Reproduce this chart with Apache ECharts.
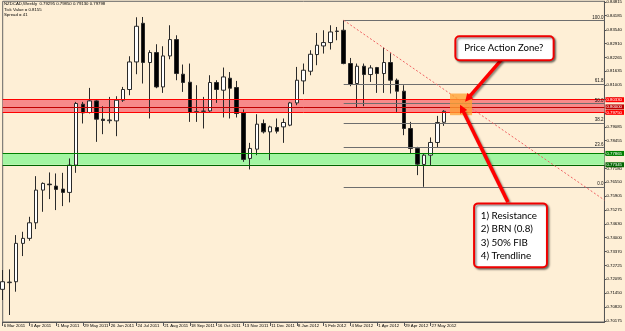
<!DOCTYPE html>
<html><head><meta charset="utf-8">
<script src="https://cdn.jsdelivr.net/npm/echarts@6/dist/echarts.min.js"></script>
<style>html,body{margin:0;padding:0;background:#FEEFD6}#c{width:625px;height:331px}</style>
</head><body><div id="c"></div>
<script>
// ---------- data ----------
const startDate = [2011, 2, 6]; // 6 Mar 2011, weekly bars
const totalSlots = 91;          // bars + empty right shift
const dateLabels = ['6 Mar 2011','3 Apr 2011','1 May 2011','29 May 2011','26 Jun 2011','24 Jul 2011','21 Aug 2011','18 Sep 2011','16 Oct 2011','13 Nov 2011','11 Dec 2011','8 Jan 2012','5 Feb 2012','4 Mar 2012','1 Apr 2012','29 Apr 2012','27 May 2012'];
const labelEvery = 4;
const opens = [0.71628,0.71935,0.71977,0.73738,0.73967,0.74682,0.76182,0.76457,0.76365,0.76228,0.76076,0.77328,0.80125,0.79744,0.80276,0.79437,0.79368,0.79359,0.80308,0.80799,0.82064,0.83838,0.82037,0.82495,0.80918,0.82339,0.83091,0.81500,0.81133,0.79762,0.79795,0.79817,0.81120,0.80767,0.81317,0.80890,0.79726,0.77635,0.78061,0.79240,0.78855,0.79056,0.79084,0.79162,0.80184,0.81193,0.81638,0.82403,0.82798,0.82954,0.83462,0.83518,0.81991,0.81074,0.81867,0.81486,0.81807,0.81532,0.82037,0.81225,0.80721,0.79010,0.78094,0.77360,0.77786,0.78368,0.79295];
const closes = [0.71977,0.71960,0.73738,0.73967,0.74682,0.76182,0.76489,0.76429,0.76214,0.76076,0.77328,0.80157,0.79726,0.80276,0.79437,0.79377,0.79400,0.80308,0.80799,0.82064,0.83701,0.82037,0.82495,0.80918,0.82339,0.83091,0.81532,0.81120,0.79744,0.79781,0.79808,0.81120,0.80799,0.81376,0.80858,0.79698,0.77589,0.78094,0.79208,0.78855,0.79084,0.78887,0.79285,0.80184,0.81225,0.81684,0.82417,0.82830,0.82954,0.83440,0.83481,0.81991,0.81028,0.81867,0.81486,0.81789,0.81532,0.82037,0.81225,0.80721,0.79010,0.78094,0.77374,0.77786,0.78368,0.79285,0.79798];
const lows = [0.71138,0.70450,0.71519,0.73155,0.73857,0.74393,0.75187,0.75769,0.75265,0.75448,0.75618,0.76975,0.79240,0.79698,0.78396,0.78749,0.79240,0.78657,0.80230,0.80537,0.81500,0.81074,0.79469,0.80858,0.80643,0.82188,0.81225,0.80689,0.79313,0.79313,0.79010,0.79772,0.80184,0.79515,0.79469,0.79515,0.77479,0.77131,0.77786,0.78781,0.77557,0.78781,0.78350,0.79116,0.80079,0.80583,0.81454,0.81913,0.82449,0.82633,0.83059,0.81958,0.80950,0.79973,0.80033,0.81147,0.80643,0.80643,0.80615,0.79772,0.78703,0.77864,0.76869,0.76333,0.77328,0.78139,0.79130];
const highs = [0.72514,0.72546,0.74118,0.74270,0.74957,0.76823,0.76535,0.76993,0.76947,0.76975,0.77635,0.80230,0.80230,0.80872,0.80308,0.80033,0.80459,0.80491,0.80918,0.82325,0.84114,0.84127,0.82601,0.82876,0.82784,0.83747,0.83288,0.81945,0.81991,0.80996,0.80459,0.81454,0.81225,0.81807,0.81600,0.81193,0.79882,0.78350,0.79666,0.79423,0.79139,0.79469,0.79469,0.80230,0.81835,0.81991,0.82601,0.83394,0.83518,0.83747,0.83669,0.83976,0.82247,0.81991,0.81991,0.81913,0.81835,0.82724,0.82463,0.81303,0.80996,0.79313,0.78167,0.77864,0.78598,0.79588,0.79850];
const priceTicks = [0.70175,0.70820,0.71450,0.72095,0.72725,0.73370,0.74000,0.74630,0.75275,0.75905,0.76550,0.77180,0.77810,0.78455,0.79085,0.79730,0.80360,0.81005,0.81635,0.82265,0.82910,0.83540,0.84185,0.84815];
const resistanceLines = [0.80330, 0.80000, 0.79750];
const supportLines = [0.77865, 0.77345];
const fibStart = [51, 0.83976];
const fibEnd = [63, 0.76333];
const fibLevels = [0, 23.6, 38.2, 50, 61.8, 100];
const trendStart = [51, 0.83976];
const trendEnd = [90, 0.75723];
const headerLines = ['NZDCAD,Weekly  0.79295 0.79850 0.79130 0.79798', 'Tick Value = 0.8155', 'Spread = 41'];
const zoneBox = [[66.9, 0.80615], [70.2, 0.79620]];
const callout1 = {box: [[67.7, 0.83242], [82.4, 0.82142]], lines: ['Price Action Zone?']};
const callout2 = {box: [[70.5, 0.75572], [81.4, 0.72638]], lines: ['1) Resistance', '2) BRN (0.8)', '3) 50% FIB', '4) Trendline']};
const arrow1 = [[74.6, 0.82174], [69.15, 0.80239]];
const arrow2 = [[75.56, 0.75631], [68.4, 0.80102]];

// ---------- build ----------
const cats = [];
for (let i = 0; i < totalSlots; i++) {
  const d = new Date(Date.UTC(startDate[0], startDate[1], startDate[2] + 7 * i));
  cats.push(d.toISOString().slice(0, 10));
}
const ohlc = opens.map((o, i) => [o, closes[i], lows[i], highs[i]]);
const isLabel = i => i % labelEvery === 0 && i / labelEvery < dateLabels.length;
const fibPrice = l => fibEnd[1] + (fibStart[1] - fibEnd[1]) * l / 100;
const axisFont = {fontFamily: 'Liberation Sans', fontSize: 4.3, color: '#000'};
const lastSlot = totalSlots - 1;

const bandLine = (v, color, w) => [
  {coord: [0, v], lineStyle: {color: color, width: w, type: 'solid'},
   label: {show: true, position: 'end', distance: 1, formatter: v.toFixed(5), backgroundColor: color, color: '#fff',
     fontFamily: 'Liberation Sans', fontSize: 4.3, padding: [0.5, 2, 0.5, 1]}},
  {coord: [lastSlot, v]}
];

const option = {
  animation: false,
  backgroundColor: '#FEEFD6',
  grid: {left: 2.7, right: 18, top: 1, bottom: 9, show: true, borderColor: '#666', borderWidth: 1},
  xAxis: {
    type: 'category', data: cats, boundaryGap: false,
    axisLine: {lineStyle: {color: '#555', width: 1}},
    axisTick: {show: true, interval: (i) => isLabel(i), length: 4, lineStyle: {color: '#555'}},
    axisLabel: Object.assign({interval: (i) => isLabel(i), formatter: (v, i) => dateLabels[i / labelEvery], align: 'left', margin: 2, padding: [0, 0, 0, 1]}, axisFont),
    splitLine: {show: false}
  },
  yAxis: {
    type: 'value', position: 'right', min: 0.70129, max: 0.84847,
    axisLine: {show: true, lineStyle: {color: '#555'}},
    axisTick: {show: true, customValues: priceTicks, length: 2, lineStyle: {color: '#555'}},
    axisLabel: Object.assign({customValues: priceTicks, formatter: v => v.toFixed(5), margin: 2}, axisFont),
    splitLine: {show: false}
  },
  series: [
    { type: 'line', data: [], z: 1, silent: true,
      markArea: {silent: true, precision: 5, data: [
        [{coord: [0, resistanceLines[2]], itemStyle: {color: '#F78A8A'}}, {coord: [lastSlot, resistanceLines[0]]}],
        [{coord: [0, supportLines[1]], itemStyle: {color: '#A2F5A2'}}, {coord: [lastSlot, supportLines[0]]}]
      ]},
      markLine: {silent: true, symbol: 'none', precision: 5, data: [
        bandLine(resistanceLines[0], '#FF0000', 1),
        bandLine(resistanceLines[1], '#C00000', 1),
        bandLine(resistanceLines[2], '#FF0000', 1),
        bandLine(supportLines[0], '#008000', 1.2),
        bandLine(supportLines[1], '#006400', 1.2)
      ]}
    },
    { type: 'candlestick', data: ohlc, barWidth: 4, z: 3, clip: true,
      itemStyle: {color: '#FFFFFF', color0: '#000000', borderColor: '#2a2a2a', borderColor0: '#2a2a2a', borderWidth: 1} },
    { type: 'line', data: [], z: 4, silent: true,
      markLine: {silent: true, symbol: 'none', precision: 5, data: fibLevels.map(l => [
        {coord: [fibStart[0], fibPrice(l)], lineStyle: {color: '#6E6E6E', width: 1, type: 'solid'},
         label: {show: true, position: 'insideEndTop', formatter: l.toFixed(1), distance: [1, 0.5], color: '#111', fontFamily: 'Liberation Sans', fontSize: 4.5}},
        {coord: [lastSlot, fibPrice(l)]}
      ]).concat([[
        {coord: trendStart, lineStyle: {color: '#F06464', width: 1, type: [2, 2]}, label: {show: false}},
        {coord: trendEnd}
      ]])}
    }
  ]
};

const chart = echarts.init(document.getElementById('c'), null, {renderer: 'canvas'});
chart.setOption(option);

function px(idx, price) {
  const a = chart.convertToPixel({gridIndex: 0}, [0, price]);
  const b = chart.convertToPixel({gridIndex: 0}, [1, price]);
  return [a[0] + (b[0] - a[0]) * idx, a[1]];
}
const shadow = {shadowBlur: 2, shadowOffsetX: 1.5, shadowOffsetY: 1.5, shadowColor: 'rgba(0,0,0,0.45)'};
function arrowEls(a) {
  const p1 = px(a[0][0], a[0][1]), p2 = px(a[1][0], a[1][1]);
  const dx = p2[0] - p1[0], dy = p2[1] - p1[1], L = Math.hypot(dx, dy), ux = dx / L, uy = dy / L;
  const hl = 8, hw = 8;
  const bx = p2[0] - ux * hl, by = p2[1] - uy * hl, nx = -uy, ny = ux;
  return [
    {type: 'line', z: 20, shape: {x1: p1[0], y1: p1[1], x2: bx + ux, y2: by + uy}, style: Object.assign({stroke: '#FF0000', lineWidth: 3.5}, shadow)},
    {type: 'polygon', z: 21, shape: {points: [[p2[0], p2[1]], [bx + nx * hw / 2, by + ny * hw / 2], [bx - nx * hw / 2, by - ny * hw / 2]]}, style: {fill: '#FF0000'}}
  ];
}
function calloutEls(c, padX, firstY, lineH, fs) {
  const a = px(c.box[0][0], c.box[0][1]), b = px(c.box[1][0], c.box[1][1]);
  const els = [{type: 'rect', z: 22, shape: {x: a[0], y: a[1], width: b[0] - a[0], height: b[1] - a[1], r: 4},
    style: Object.assign({fill: '#FFFFFF', stroke: '#F00000', lineWidth: 2}, shadow)}];
  c.lines.forEach((t, i) => els.push({type: 'text', z: 23, x: a[0] + padX, y: a[1] + firstY + i * lineH,
    style: {text: t, fill: '#000', font: fs + 'px Lato', textVerticalAlign: 'middle', textAlign: 'left'}}));
  return els;
}
const z0 = px(zoneBox[0][0], zoneBox[0][1]), z1 = px(zoneBox[1][0], zoneBox[1][1]);
const els = [
  {type: 'rect', z: 19, shape: {x: z0[0], y: z0[1], width: z1[0] - z0[0], height: z1[1] - z0[1]}, style: {fill: 'rgba(255,160,50,0.78)'}}
].concat(arrowEls(arrow1), arrowEls(arrow2), calloutEls(callout1, 9, 12, 0, 9.6), calloutEls(callout2, 6.7, 12.4, 13.33, 9.8));
headerLines.forEach((t, i) => els.push({type: 'text', z: 30, x: 4, y: 4 + i * 5.6,
  style: {text: t, fill: '#000', font: '4.3px Liberation Sans', textVerticalAlign: 'middle'}}));
chart.setOption({graphic: els});
</script>
</body></html>
